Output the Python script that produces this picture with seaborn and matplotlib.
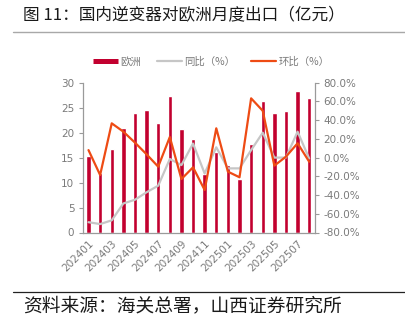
import numpy as np
import matplotlib
matplotlib.use("Agg")
import matplotlib.pyplot as plt
import seaborn as sns
from matplotlib.lines import Line2D
from matplotlib.ticker import FuncFormatter, FixedLocator

# Monthly inverter exports to Europe (亿元) with YoY / MoM change (%)
months = ["202401", "202402", "202403", "202404", "202405", "202406", "202407",
          "202408", "202409", "202410", "202411", "202412", "202501", "202502",
          "202503", "202504", "202505", "202506", "202507", "202508"]
europe = [15.4, 12.0, 16.7, 21.0, 24.0, 24.6, 22.0, 27.3, 20.7, 18.7,
          11.8, 16.2, 13.6, 10.8, 17.7, 26.4, 24.0, 24.4, 28.3, 26.9]
yoy = [-69.0, -71.0, -67.0, -49.0, -45.0, -37.0, -30.0, -1.5, -8.0, 15.0,
       -17.0, 11.0, -11.5, -11.5, 8.0, 26.6, 0.0, 0.0, 27.7, -1.0]
mom = [8.0, -18.6, 36.6, 27.7, 16.0, 3.5, -9.7, 22.0, -22.9, -10.4,
       -34.6, 31.3, -15.0, -21.0, 63.3, 50.0, -8.6, 1.0, 15.3, -4.4]

series_labels = ["欧洲", "同比（%）", "环比（%）"]
title = "图 11：国内逆变器对欧洲月度出口（亿元）"
source = "资料来源：海关总署，山西证券研究所"

sns.set_style("white")
plt.rcParams["font.family"] = ["DejaVu Sans", "Noto Sans CJK SC"]
cjk = ["Noto Sans CJK SC", "DejaVu Sans"]

bar_color = "#C2002F"
gray_color = "#C6C6C6"
orange_color = "#EE4B14"
axis_color = "#9A9A9A"
label_color = "#7A7A7A"

W, H = 405, 323
fig = plt.figure(figsize=(W / 100, H / 100), dpi=100)
ax = fig.add_axes([82.7 / W, 1 - 232.5 / H, (315 - 82.7) / W, (232.5 - 82.7) / H])

sns.barplot(x=months, y=europe, color=bar_color, saturation=1, width=0.38, ax=ax)
ax.set_xlim(-0.5, len(months) - 0.5)
ax.set_ylim(0, 30)
ax.set_yticks(np.arange(0, 31, 5))
ax.set_xlabel("")
ax.set_ylabel("")

ax2 = ax.twinx()
xpos = np.arange(len(months))
sns.lineplot(x=xpos, y=yoy, color=gray_color, lw=1.6, ax=ax2)
sns.lineplot(x=xpos, y=mom, color=orange_color, lw=1.6, ax=ax2)
ax2.set_ylim(-80, 80)
ax2.set_yticks(np.arange(-80, 81, 20))
ax2.yaxis.set_major_formatter(FuncFormatter(lambda v, p: f"{v:.1f}%"))
ax2.set_xlim(-0.5, len(months) - 0.5)
ax2.set_ylabel("")

# category labels on every other month, tick marks on category edges
ax.set_xticks(np.arange(0, len(months), 2))
ax.set_xticklabels(months[::2], rotation=45, ha="right", rotation_mode="anchor")
ax.xaxis.set_minor_locator(FixedLocator(np.arange(-0.5, len(months), 1.0)))
ax.tick_params(axis="x", which="major", length=0, pad=4, labelsize=7.5, labelcolor=label_color)
ax.tick_params(axis="x", which="minor", length=3, width=0.8, color=axis_color, direction="out")
ax.tick_params(axis="y", length=3, width=0.8, color=axis_color, labelsize=7.5,
               labelcolor=label_color, pad=3)
ax2.tick_params(axis="y", length=3, width=0.8, color=axis_color, labelsize=7.5,
                labelcolor=label_color, pad=3)

for s in ["top", "right"]:
    ax.spines[s].set_visible(False)
for s in ["top", "left", "bottom"]:
    ax2.spines[s].set_visible(False)
for s in ["left", "bottom"]:
    ax.spines[s].set_color(axis_color)
    ax.spines[s].set_linewidth(0.9)
ax2.spines["right"].set_color(axis_color)
ax2.spines["right"].set_linewidth(0.9)

handles = [Line2D([], [], color=bar_color, lw=3.6, solid_capstyle="butt"),
           Line2D([], [], color=gray_color, lw=1.6),
           Line2D([], [], color=orange_color, lw=1.6)]
fig.legend(handles, series_labels, loc="center", bbox_to_anchor=(211 / W, 1 - 62 / H),
           ncol=3, frameon=False, handlelength=2.4, handletextpad=0.25,
           columnspacing=1.5, labelcolor=label_color,
           prop={"family": cjk, "size": 7.5})

fig.text(23 / W, 1 - 16 / H, title, fontsize=12, va="center", ha="left",
         family=cjk, color="#1A1A1A")
fig.add_artist(Line2D([13 / W, 1], [1 - 32 / H, 1 - 32 / H], color="#A8A8A8", lw=1.0))
fig.add_artist(Line2D([13 / W, 1], [1 - 292 / H, 1 - 292 / H], color="#222222", lw=0.9))
fig.text(23 / W, 1 - 306 / H, source, fontsize=13.5, va="center", ha="left",
         family=cjk, color="#1A1A1A")

fig.savefig("out.png", dpi=100)
